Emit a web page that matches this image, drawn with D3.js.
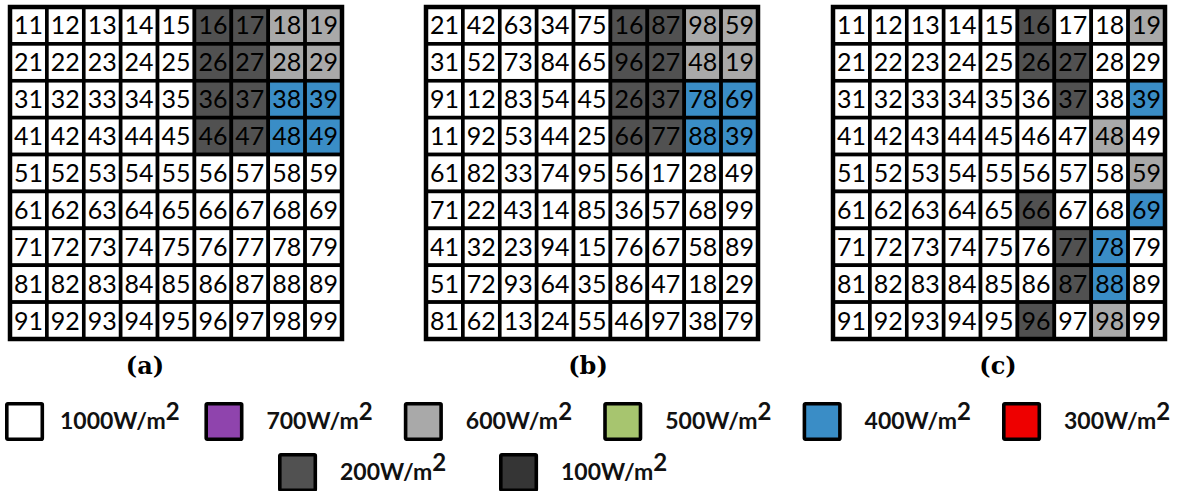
<!DOCTYPE html>
<html>
<head>
<meta charset="utf-8">
<script src="https://cdn.jsdelivr.net/npm/d3@7"></script>
<style>
  html, body { margin: 0; padding: 0; background: #fff; }
  svg { display: block; }
</style>
</head>
<body>
<script>
// Cell labels of the three 9x9 module arrays
const labelsA = [
  [11,12,13,14,15,16,17,18,19],
  [21,22,23,24,25,26,27,28,29],
  [31,32,33,34,35,36,37,38,39],
  [41,42,43,44,45,46,47,48,49],
  [51,52,53,54,55,56,57,58,59],
  [61,62,63,64,65,66,67,68,69],
  [71,72,73,74,75,76,77,78,79],
  [81,82,83,84,85,86,87,88,89],
  [91,92,93,94,95,96,97,98,99]
];
const labelsB = [
  [21,42,63,34,75,16,87,98,59],
  [31,52,73,84,65,96,27,48,19],
  [91,12,83,54,45,26,37,78,69],
  [11,92,53,44,25,66,77,88,39],
  [61,82,33,74,95,56,17,28,49],
  [71,22,43,14,85,36,57,68,99],
  [41,32,23,94,15,76,67,58,89],
  [51,72,93,64,35,86,47,18,29],
  [81,62,13,24,55,46,97,38,79]
];
const labelsC = [
  [11,12,13,14,15,16,17,18,19],
  [21,22,23,24,25,26,27,28,29],
  [31,32,33,34,35,36,37,38,39],
  [41,42,43,44,45,46,47,48,49],
  [51,52,53,54,55,56,57,58,59],
  [61,62,63,64,65,66,67,68,69],
  [71,72,73,74,75,76,77,78,79],
  [81,82,83,84,85,86,87,88,89],
  [91,92,93,94,95,96,97,98,99]
];

// Irradiance (W/m2) on each cell
const irradA = [
  [1000,1000,1000,1000,1000,200,200,600,600],
  [1000,1000,1000,1000,1000,200,200,600,600],
  [1000,1000,1000,1000,1000,200,200,400,400],
  [1000,1000,1000,1000,1000,200,200,400,400],
  [1000,1000,1000,1000,1000,1000,1000,1000,1000],
  [1000,1000,1000,1000,1000,1000,1000,1000,1000],
  [1000,1000,1000,1000,1000,1000,1000,1000,1000],
  [1000,1000,1000,1000,1000,1000,1000,1000,1000],
  [1000,1000,1000,1000,1000,1000,1000,1000,1000]
];
const irradB = [
  [1000,1000,1000,1000,1000,200,200,600,600],
  [1000,1000,1000,1000,1000,200,200,600,600],
  [1000,1000,1000,1000,1000,200,200,400,400],
  [1000,1000,1000,1000,1000,200,200,400,400],
  [1000,1000,1000,1000,1000,1000,1000,1000,1000],
  [1000,1000,1000,1000,1000,1000,1000,1000,1000],
  [1000,1000,1000,1000,1000,1000,1000,1000,1000],
  [1000,1000,1000,1000,1000,1000,1000,1000,1000],
  [1000,1000,1000,1000,1000,1000,1000,1000,1000]
];
const irradC = [
  [1000,1000,1000,1000,1000,200,1000,1000,600],
  [1000,1000,1000,1000,1000,200,200,1000,1000],
  [1000,1000,1000,1000,1000,1000,200,1000,400],
  [1000,1000,1000,1000,1000,1000,1000,600,1000],
  [1000,1000,1000,1000,1000,1000,1000,1000,600],
  [1000,1000,1000,1000,1000,200,1000,1000,400],
  [1000,1000,1000,1000,1000,1000,200,400,1000],
  [1000,1000,1000,1000,1000,1000,200,400,1000],
  [1000,1000,1000,1000,1000,200,1000,600,1000]
];

const panelCaptions = ["(a)", "(b)", "(c)"];

// Irradiance levels shown in the legend, with their fills
const levels = [1000, 700, 600, 500, 400, 300, 200, 100];
const levelColors = ["#ffffff", "#8f44ad", "#a9a9a9", "#a7c56f", "#3a8dc6", "#ee0000", "#515151", "#353535"];

// ---------------------------------------------------------------
const W = 1189, H = 491;
const svg = d3.select("body").append("svg")
  .attr("width", W).attr("height", H);

const fill = d3.scaleOrdinal().domain(levels).range(levelColors);

const panels = [
  { labels: labelsA, irrad: irradA, caption: panelCaptions[0] },
  { labels: labelsB, irrad: irradB, caption: panelCaptions[1] },
  { labels: labelsC, irrad: irradC, caption: panelCaptions[2] }
];

// panel placement
const panelX = [10, 426, 833];
const captionX = [145, 588, 998];
const panelY = 7;
const gridSize = 332;

const col = d3.scaleBand().domain(d3.range(9)).range([0, gridSize]);
const row = d3.scaleBand().domain(d3.range(9)).range([0, gridSize]);

panels.forEach((p, i) => {
  const g = svg.append("g").attr("transform", `translate(${panelX[i]},${panelY})`);
  const cells = [];
  p.labels.forEach((r, ri) => r.forEach((lab, ci) => {
    cells.push({ r: ri, c: ci, label: lab, value: p.irrad[ri][ci] });
  }));

  g.selectAll("rect.cell").data(cells).join("rect")
    .attr("class", "cell")
    .attr("x", d => col(d.c))
    .attr("y", d => row(d.r))
    .attr("width", col.bandwidth())
    .attr("height", row.bandwidth())
    .attr("fill", d => fill(d.value))
    .attr("stroke", "#000")
    .attr("stroke-width", 3.6);

  g.selectAll("text.num").data(cells).join("text")
    .attr("class", "num")
    .attr("x", d => col(d.c) + col.bandwidth() / 2)
    .attr("y", d => row(d.r) + row.bandwidth() / 2)
    .attr("dy", "0.36em")
    .attr("text-anchor", "middle")
    .attr("font-family", "Lato, 'Open Sans', sans-serif")
    .attr("font-size", 25)
    .attr("fill", "#000")
    .text(d => d.label);

  g.append("rect")
    .attr("x", 0).attr("y", 0)
    .attr("width", gridSize).attr("height", gridSize)
    .attr("fill", "none")
    .attr("stroke", "#000")
    .attr("stroke-width", 4.5);

  svg.append("text")
    .attr("x", captionX[i])
    .attr("y", 374)
    .attr("text-anchor", "middle")
    .attr("font-family", "'DejaVu Serif', 'Liberation Serif', serif")
    .attr("font-weight", "bold")
    .attr("font-size", 24)
    .text(p.caption);
});

// Legend: two rows
const legendItems = levels.map((v, i) => {
  const first = i < 6;
  return {
    value: v,
    x: first ? 5 + i * 199.4 : 278 + (i - 6) * 221,
    y: first ? 402 : 453
  };
});

const lg = svg.append("g").selectAll("g").data(legendItems).join("g")
  .attr("transform", d => `translate(${d.x},${d.y})`);

lg.append("rect")
  .attr("x", 1.8).attr("y", 1.8)
  .attr("width", 35.5).attr("height", 35.5)
  .attr("fill", d => fill(d.value))
  .attr("stroke", "#000")
  .attr("stroke-width", 3.6)
  .attr("rx", 1);

const lt = lg.append("text")
  .attr("x", d => d.value === 1000 ? 55 : 62)
  .attr("y", 27)
  .attr("font-family", "Lato, 'Open Sans', sans-serif")
  .attr("font-weight", "bold")
  .attr("font-size", 23)
  .attr("fill", "#111");
lt.append("tspan").text(d => `${d.value}W/m`);
lt.append("tspan")
  .attr("font-size", 24)
  .attr("dy", -9)
  .text("2");
</script>
</body>
</html>
